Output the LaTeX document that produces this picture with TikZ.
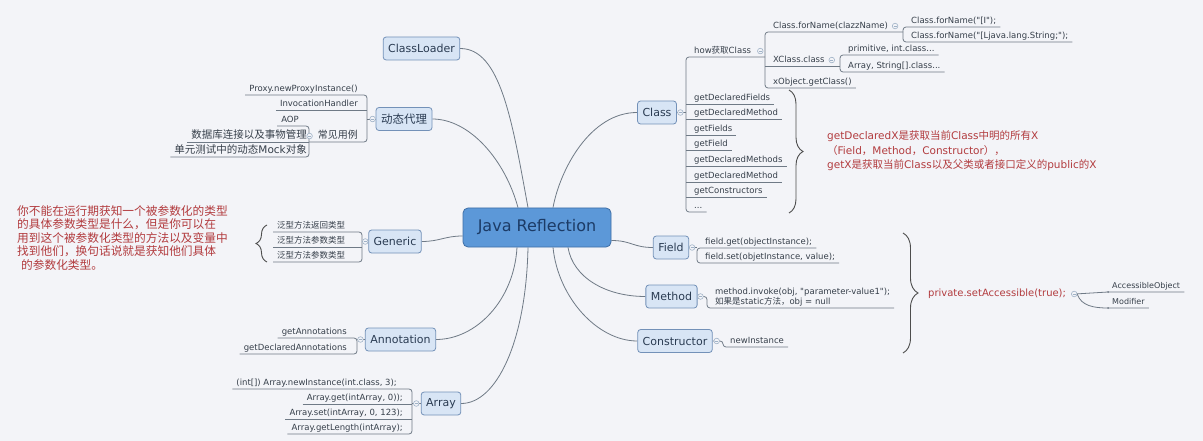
\documentclass[tikz,border=0pt]{standalone}
\usepackage{fontspec}
\setmainfont{DejaVu Sans}
\newfontfamily\cjk{Noto Sans CJK SC}
\usetikzlibrary{decorations.pathreplacing,backgrounds}
\definecolor{bgc}{HTML}{F3F4F8}
\definecolor{linec}{HTML}{6F7A86}
\definecolor{nfill}{HTML}{D8E5F5}
\definecolor{ndraw}{HTML}{7391B8}
\definecolor{ntext}{HTML}{2A3B52}
\definecolor{cfill}{HTML}{5C98D8}
\definecolor{cdraw}{HTML}{3E6EA5}
\definecolor{ctext}{HTML}{1C3B66}
\definecolor{stext}{HTML}{363F4A}
\definecolor{redt}{HTML}{B23B3E}
\definecolor{iconc}{HTML}{9FB2C7}
\definecolor{bracec}{HTML}{4D4D4D}
\newcommand\sdq{\XeTeXglyph\XeTeXcharglyph"22\relax}
\newcommand\mmicon[1]{%
  \filldraw[draw=iconc, fill=bgc, line width=0.6pt] (#1) circle (2.8pt);
  \draw[iconc, line width=0.6pt] (#1) +(-1.5,0) -- +(1.5,0);}
\begin{document}
\begin{tikzpicture}[x=1pt,y=-1pt,
  conn/.style={draw=linec, line width=0.8pt},
  cnode/.style={draw=cdraw, fill=cfill, line width=0.8pt, rounded corners=5pt,
    minimum width=148pt, minimum height=39pt, inner sep=0pt, text=ctext,
    font=\fontsize{16}{19}\selectfont},
  mnode/.style={draw=ndraw, fill=nfill, line width=0.8pt, rounded corners=3pt,
    inner xsep=5pt, inner ysep=0pt, minimum height=23pt, text=ntext,
    font=\fontsize{11}{13}\selectfont},
  leaf/.style={inner xsep=4pt, inner ysep=1.5pt, text height=6.5pt, text depth=2pt,
    text=stext, font=\fontsize{8.5}{10}\selectfont},
  bigleaf/.style={leaf, font=\cjk\fontsize{10.5}{12}\selectfont},
  bracestyle/.style={draw=bracec, line width=0.9pt, decorate},
]
\useasboundingbox (0,0) rectangle (1203,441);
\begin{scope}[on background layer]
  \fill[bgc] (0,0) rectangle (1203,441);
\end{scope}

% main nodes
\node[cnode] (jr) at (537,227.5) {Java Reflection};
\node[mnode] (cl) at (421.5,48.5) {ClassLoader};
\node[mnode, font=\cjk\fontsize{11.5}{13}\selectfont] (proxy) at (404,119) {动态代理};
\node[mnode] (generic) at (395,241.5) {Generic};
\node[mnode] (annot) at (400.5,339.5) {Annotation};
\node[mnode] (array) at (441,403.5) {Array};
\node[mnode] (class) at (657,112.5) {Class};
\node[mnode] (field) at (671,247.5) {Field};
\node[mnode] (method) at (671.5,296.5) {Method};
\node[mnode] (ctor) at (675,341) {Constructor};

% spine coordinates
\coordinate (cs) at (686,0);
\coordinate (hs) at (765,0);
\coordinate (cfs) at (903,0);
\coordinate (xcs) at (840,0);
\coordinate (ps) at (367,0);
\coordinate (cus) at (309,0);
\coordinate (gs) at (362,0);
\coordinate (as) at (357,0);
\coordinate (ars) at (412,0);
\coordinate (fs) at (697,0);
\coordinate (ms) at (707,0);
\coordinate (ks) at (723,0);

% Class leaves
\node[leaf, anchor=south west] (how) at (690,57) {how{\cjk 获取}Class};
\node[leaf, anchor=south west] (gdf) at (690,104) {getDeclaredFields};
\node[leaf, anchor=south west] (gdm1) at (690,119) {getDeclaredMethod};
\node[leaf, anchor=south west] (gfs) at (690,135) {getFields};
\node[leaf, anchor=south west] (gf) at (690,150) {getField};
\node[leaf, anchor=south west] (gdms) at (690,166) {getDeclaredMethods};
\node[leaf, anchor=south west] (gdm2) at (690,182) {getDeclaredMethod};
\node[leaf, anchor=south west] (gc) at (690,197) {getConstructors};
\node[leaf, anchor=south west] (dots) at (690,212) {...};
\node[leaf, anchor=south west] (cfn) at (769,32) {Class.forName(clazzName)};
\node[leaf, anchor=south west] (xcc) at (769,66) {XClass.class};
\node[leaf, anchor=south west] (xog) at (769,88) {xObject.getClass()};
\node[leaf, anchor=south west] (cfn1) at (907,27) {Class.forName(\sdq[I\sdq);};
\node[leaf, anchor=south west] (cfn2) at (907,42) {Class.forName(\sdq[Ljava.lang.String;\sdq);};
\node[leaf, anchor=south west] (p1) at (844,55) {primitive, int.class...};
\node[leaf, anchor=south west] (p2) at (844,72) {Array, String[].class...};

% proxy leaves
\node[leaf, anchor=south east] (pnp) at (362,95) {Proxy.newProxyInstance()};
\node[leaf, anchor=south east] (ih) at (362,110) {InvocationHandler};
\node[leaf, anchor=south east, font=\cjk\fontsize{10}{12}\selectfont] (cjyl) at (362,142) {常见用例};
\node[leaf, anchor=south east] (aop) at (303,126) {AOP};
\node[bigleaf, anchor=south east] (db) at (311,142) {数据库连接以及事物管理};
\node[bigleaf, anchor=south east] (ut) at (311,157) {单元测试中的动态{\fontspec{DejaVu Sans}Mock}对象};

% generic leaves
\node[leaf, anchor=south west, font=\cjk\fontsize{8.5}{10}\selectfont] (g1) at (273,232) {泛型方法返回类型};
\node[leaf, anchor=south west, font=\cjk\fontsize{8.5}{10}\selectfont] (g2) at (273,247) {泛型方法参数类型};
\node[leaf, anchor=south west, font=\cjk\fontsize{8.5}{10}\selectfont] (g3) at (273,262) {泛型方法参数类型};

% annotation leaves
\node[leaf, anchor=south east] (ga) at (351,338) {getAnnotations};
\node[leaf, anchor=south east] (gda) at (351,354) {getDeclaredAnnotations};

% array leaves
\node[leaf, anchor=south east] (a1) at (401,389) {(int[]) Array.newInstance(int.class, 3);};
\node[leaf, anchor=south east] (a2) at (407,404) {Array.get(intArray, 0));};
\node[leaf, anchor=south east] (a3) at (407,419) {Array.set(intArray, 0, 123);};
\node[leaf, anchor=south east] (a4) at (407,434) {Array.getLength(intArray);};

% field / method / constructor leaves
\node[leaf, anchor=south west] (fget) at (701,248) {field.get(objectInstance);};
\node[leaf, anchor=south west] (fset) at (701,263) {field.set(objetInstance, value);};
\node[anchor=south west, inner xsep=4pt, inner ysep=1.5pt, align=left, text=stext,
  font=\fontsize{8.5}{10}\selectfont] (mi) at (711,308)
  {method.invoke(obj, \sdq parameter-value1\sdq);\\{\cjk 如果是}static{\cjk 方法，}obj = null};
\node[leaf, anchor=south west] (ni) at (726,347) {newInstance};

% red notes
\node[anchor=west, align=left, inner sep=0pt, text=redt,
  font=\fontsize{10.5}{14.5}\selectfont] (note1) at (827,151)
  {getDeclaredX{\cjk 是获取当前}Class{\cjk 中明的所有}X\\
   {\cjk （}Field{\cjk ，}Method{\cjk ，}Constructor{\cjk ），}\\
   getX{\cjk 是获取当前}Class{\cjk 以及父类或者接口定义的}public{\cjk 的}X};
\node[anchor=north west, align=left, inner sep=0pt, text=redt,
  font=\cjk\fontsize{11.7}{13.6}\selectfont] (note2) at (17,205)
  {你不能在运行期获知一个被参数化的类型\\
   的具体参数类型是什么，但是你可以在\\
   用到这个被参数化类型的方法以及变量中\\
   找到他们，换句话说就是获知他们具体\\
   \hspace*{4pt}的参数化类型。};
\node[anchor=west, inner sep=0pt, text=redt, font=\fontsize{10}{12}\selectfont]
  (priv) at (928,294) {private.setAccessible(true);};
\node[leaf, anchor=south west, font=\fontsize{8}{10}\selectfont] (ao) at (1108,292) {AccessibleObject};
\node[leaf, anchor=south west, font=\fontsize{8}{10}\selectfont] (mo) at (1108,308) {Modifier};

% braces
\draw[bracestyle, decoration={brace, amplitude=14pt}] (789,90) -- (789,213);
\draw[bracestyle, decoration={brace, amplitude=11pt}] (267,262) -- (267,225);
\draw[bracestyle, decoration={brace, amplitude=15pt}] (903,233) -- (903,353);

\begin{scope}[on background layer]
% main curves
\draw[conn] (cl.east) .. controls +(40,0) and +(-16,-88) .. ([xshift=-9pt]jr.north);
\draw[conn] (proxy.east) .. controls +(37,0) and +(-13,-48) .. ([xshift=-19pt]jr.north);
\draw[conn] (class.west) .. controls +(-47,0) and +(7,-38) .. ([xshift=16pt]jr.north);
\draw[conn] (generic.east) .. controls +(18,0) and +(-18,0) .. ([yshift=-8.5pt]jr.west);
\draw[conn] ([yshift=-13pt]jr.east) .. controls +(20,0) and +(-20,0) .. (field.west);
\draw[conn] ([xshift=31pt]jr.south) .. controls +(5,30) and +(-40,0) .. (method.west);
\draw[conn] ([xshift=16pt]jr.south) .. controls +(5,50) and +(-40,0) .. (ctor.west);
\draw[conn] ([xshift=-20pt]jr.south) .. controls +(-3,53) and +(40,0) .. (annot.east);
\draw[conn] ([xshift=-9pt]jr.south) .. controls +(-2,95) and +(35,0) .. (array.east);

% Class tree
\draw[conn] (class.east) -- (class.east -| cs);
\draw[conn, rounded corners=3pt] (how.south west -| hs) -- (how.south west -| cs) -- (dots.south west -| cs) -- (dots.south east);
\foreach \n in {gdf,gdm1,gfs,gf,gdms,gdm2,gc}
  \draw[conn] (\n.south west -| cs) -- (\n.south east);
\draw[conn, rounded corners=3pt] (cfn.south west -| cfs) -- (cfn.south west -| hs) -- (xog.south west -| hs) -- (xog.south east);
\draw[conn] (xcc.south west -| hs) -- (xcc.south west -| xcs);
\draw[conn, rounded corners=3pt] (cfn1.south east) -- (cfn1.south west -| cfs) -- (cfn2.south west -| cfs) -- (cfn2.south east);
\draw[conn, rounded corners=3pt] (p1.south east) -- (p1.south west -| xcs) -- (p2.south west -| xcs) -- (p2.south east);

% proxy tree
\draw[conn] (proxy.west) -- (proxy.west -| ps);
\draw[conn, rounded corners=3pt] (pnp.south west) -- (pnp.south east -| ps) -- (cjyl.south east -| ps) -- (cjyl.south east -| cus);
\draw[conn] (ih.south west) -- (ih.south east -| ps);
\draw[conn, rounded corners=3pt] (aop.south west) -- (aop.south east -| cus) -- (ut.south east -| cus) -- (ut.south west);
\draw[conn] (db.south west) -- (db.south east -| cus);

% generic tree
\draw[conn] (generic.west) -- (generic.west -| gs);
\draw[conn, rounded corners=3pt] (g1.south west) -- (g1.south west -| gs) -- (g3.south west -| gs) -- (g3.south west);
\draw[conn] (g2.south west) -- (g2.south west -| gs);

% annotation tree
\draw[conn] (annot.west) -- (annot.west -| as);
\draw[conn, rounded corners=3pt] (ga.south west) -- (ga.south east -| as) -- (gda.south east -| as) -- (gda.south west);

% array tree
\draw[conn] (array.west) -- (array.west -| ars);
\draw[conn, rounded corners=3pt] (a1.south west) -- (a1.south east -| ars) -- (a4.south east -| ars) -- (a4.south west);
\draw[conn] (a2.south west) -- (a2.south east -| ars);
\draw[conn] (a3.south west) -- (a3.south east -| ars);

% field / method / constructor
\draw[conn] (field.east) -- (field.east -| fs);
\draw[conn, rounded corners=3pt] (fget.south east) -- (fget.south west -| fs) -- (fset.south west -| fs) -- (fset.south east);
\draw[conn, rounded corners=3pt] (method.east) -- (method.east -| ms) -- (mi.south west -| ms) -- (mi.south east);
\draw[conn, rounded corners=3pt] (ctor.east) -- (ctor.east -| ks) -- (ni.south west -| ks) -- (ni.south east);

% private tree
\draw[conn] ([xshift=9pt]priv.east) -- (ao.south west) -- (ao.south east);
\draw[conn] ([xshift=11pt]priv.east) .. controls +(4,12) and +(-14,0) .. (mo.south west) -- (mo.south east);
\end{scope}
\fill[linec] (ao.south west) circle (1pt);
\fill[linec] (mo.south west) circle (1pt);

% collapse icons
\mmicon{[xshift=3.5pt]class.east}
\mmicon{[xshift=5pt]how.east}
\mmicon{[xshift=3pt]cfn.east}
\mmicon{[xshift=3pt]xcc.east}
\mmicon{[xshift=-3pt]proxy.west}
\mmicon{[xshift=-4pt]cjyl.west}
\mmicon{[xshift=-3pt]generic.west}
\mmicon{[xshift=-4.5pt]annot.west}
\mmicon{[xshift=-4.5pt]array.west}
\mmicon{[xshift=3pt]field.east}
\mmicon{[xshift=3pt]method.east}
\mmicon{[xshift=4pt]ctor.east}
\mmicon{[xshift=8pt]priv.east}
\end{tikzpicture}
\end{document}
